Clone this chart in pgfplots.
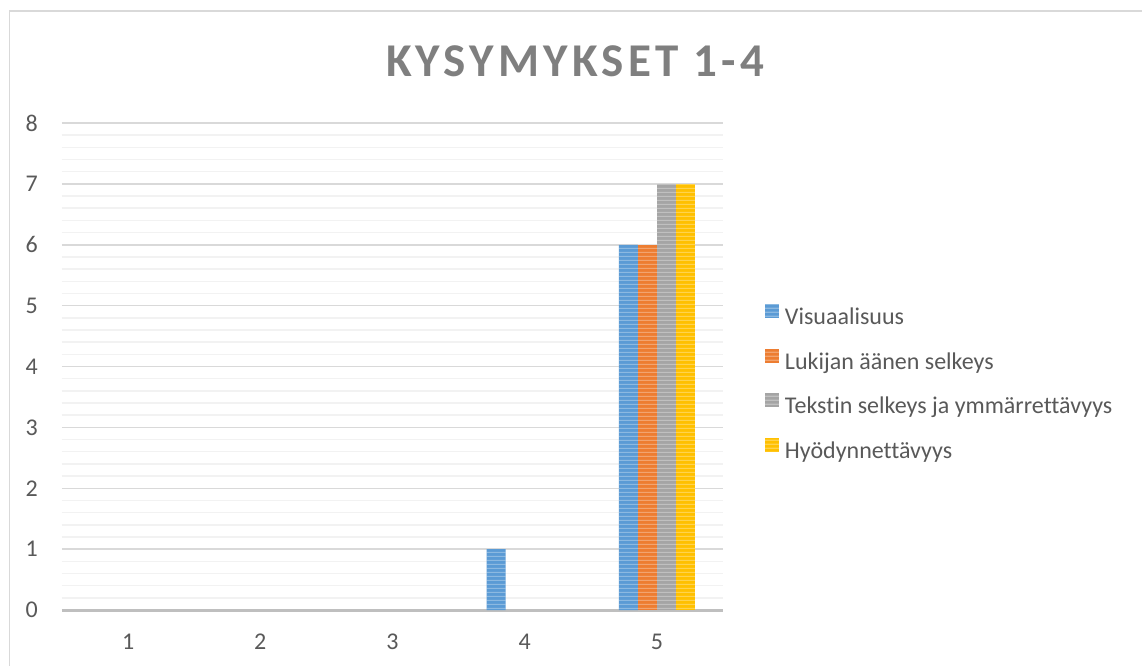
\documentclass[border=0pt]{standalone}
\usepackage{pgfplots}
\pgfplotsset{compat=1.18}
\usepackage{fontspec}
\setmainfont{Carlito}[Ligatures={NoCommon,NoRare}]
\usetikzlibrary{patterns}
\pgfdeclarepatternformonly{hstripes}{\pgfpointorigin}{\pgfpoint{300pt}{4pt}}{\pgfpoint{300pt}{4pt}}{%
  \pgfsetlinewidth{1.5pt}%
  \pgfpathmoveto{\pgfpoint{-1pt}{2pt}}\pgfpathlineto{\pgfpoint{301pt}{2pt}}\pgfusepath{stroke}}
\definecolor{cblue}{HTML}{5B9BD5}
\definecolor{corange}{HTML}{ED7D31}
\definecolor{cgray}{HTML}{A5A5A5}
\definecolor{cgold}{HTML}{FFC000}
\definecolor{textc}{HTML}{595959}
\definecolor{titlec}{HTML}{7F7F7F}
\definecolor{gridmaj}{HTML}{D9D9D9}
\definecolor{gridmin}{HTML}{F2F2F2}
\definecolor{axisc}{HTML}{BFBFBF}
\definecolor{bord}{HTML}{D9D9D9}
\pgfplotsset{
  stripes/.style={fill=#1, draw=none,
    postaction={fill opacity=0.3, pattern=hstripes, pattern color=white}},
}
\begin{document}
\begin{tikzpicture}[x=1pt,y=1pt]
\useasboundingbox (0,0) rectangle (1142,665);
\fill[white] (0,0) rectangle (1142,665);
\draw[color=bord, line width=1.5pt] (9.5,-5) -- (9.5,654) -- (1150,654);
\node[anchor=base, text=titlec, inner sep=0pt, font=\fontsize{47}{56}\selectfont\bfseries\addfontfeature{LetterSpace=9}] at (575,588) {KYSYMYKSET 1-4};
\begin{axis}[
  at={(62pt,55pt)}, anchor=south west,
  scale only axis, width=661pt, height=487pt,
  xmin=0.5, xmax=5.5, ymin=0, ymax=8,
  ybar=0pt, bar width=19pt,
  xtick={1,2,3,4,5}, ytick={0,1,2,3,4,5,6,7,8},
  minor y tick num=4,
  ymajorgrids, yminorgrids,
  major grid style={color=gridmaj, line width=1.5pt},
  minor grid style={color=gridmin, line width=1.5pt},
  axis line style={draw=none},
  major tick length=0pt, minor tick length=0pt,
  tick style={draw=none},
  ticklabel style={font=\fontsize{24}{28}\selectfont, text=textc, inner sep=0pt},
  yticklabel style={xshift=-24pt},
  xticklabel style={yshift=-24pt},
  /pgf/number format/assume math mode=true,
  extra y ticks={0}, extra y tick labels={},
  extra y tick style={major grid style={color=axisc, line width=3pt}},
  legend style={at={(1.0635,0.465)}, anchor=west, draw=none, fill=none,
    inner sep=0pt, outer sep=0pt, row sep=19pt,
    font=\fontsize{24}{28}\selectfont, text=textc,
    nodes={inner sep=0pt, text height=17pt, text depth=5pt},
    /tikz/every odd column/.append style={column sep=6pt}},
  legend cell align=left,
  legend image code/.code={\fill[#1] (0pt,0.5pt) rectangle (14pt,14.5pt);},
]
% values at categories 1-3 (and missing ones at 4) are 0
\addplot[stripes=cblue] coordinates {(4,1) (5,6)};
\addplot[stripes=corange] coordinates {(5,6)};
\addplot[stripes=cgray] coordinates {(5,7)};
\addplot[stripes=cgold] coordinates {(5,7)};
\legend{Visuaalisuus, Lukijan äänen selkeys, Tekstin selkeys ja ymmärrettävyys, Hyödynnettävyys}
\end{axis}
\end{tikzpicture}
\end{document}
